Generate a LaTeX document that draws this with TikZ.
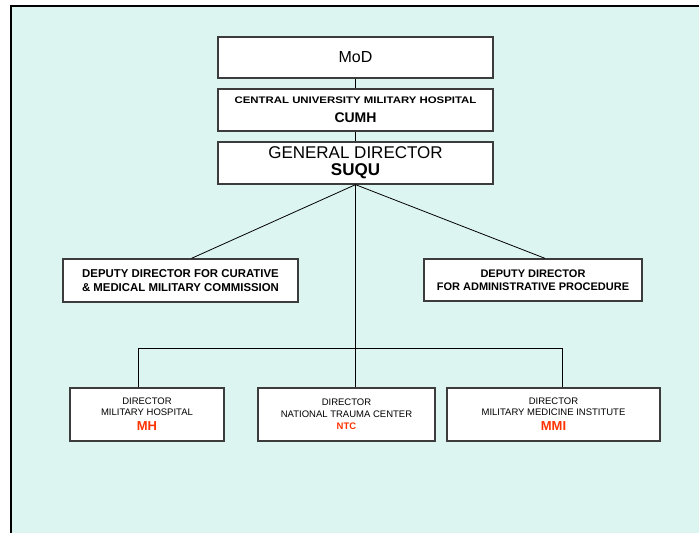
\documentclass[tikz,border=0pt]{standalone}
\usepackage{fontspec}
\setmainfont{Liberation Sans}
\newfontfamily\widefont[FakeStretch=1.2]{Liberation Sans}
\definecolor{bgc}{RGB}{220,245,240}
\definecolor{redt}{RGB}{255,51,0}
\definecolor{boxline}{RGB}{60,60,60}
\begin{document}
\begin{tikzpicture}[x=1pt,y=-1pt,
  box/.style={draw=boxline, line width=1.3pt, fill=white, align=center, inner sep=0pt},
  conn/.style={draw=black, line width=0.8pt}]
\useasboundingbox (0,0) rectangle (699,533);
\fill[white] (0,0) rectangle (699,533);
\fill[bgc] (11,6) rectangle (699,533);
\draw[line width=1.4pt] (11,533) -- (11,6) -- (699,6);

\node[box, minimum width=275pt, minimum height=41pt, font=\fontsize{16}{18}\selectfont] (mod) at (355.5,57.5) {MoD};
\node[box, minimum width=275pt, minimum height=42pt, font=\fontsize{9.5}{18.8}\selectfont\bfseries] (cumh) at (355.5,110)
  {{\widefont\bfseries CENTRAL UNIVERSITY MILITARY HOSPITAL}\\{\fontsize{14}{14}\selectfont\bfseries CUMH}};
\node[box, minimum width=275pt, minimum height=42pt, font=\fontsize{17}{17}\selectfont] (gd) at (355.5,163)
  {GENERAL DIRECTOR\\{\bfseries SUQU}};

\node[box, minimum width=235pt, minimum height=43pt, font=\fontsize{11.4}{14}\selectfont\bfseries] (dl) at (180.5,280.5)
  {DEPUTY DIRECTOR FOR CURATIVE\\\& MEDICAL MILITARY COMMISSION};
\node[box, minimum width=218pt, minimum height=42pt, font=\fontsize{11}{13}\selectfont\bfseries] (dr) at (533,280)
  {DEPUTY DIRECTOR\\FOR ADMINISTRATIVE PROCEDURE};

\node[box, minimum width=154pt, minimum height=53pt, font=\fontsize{9.5}{11}\selectfont] (bl) at (147,414.5)
  {DIRECTOR\\MILITARY HOSPITAL\\[4pt]{\fontsize{13}{13}\selectfont\bfseries\color{redt}MH}};
\node[box, minimum width=177pt, minimum height=53pt, font=\fontsize{9.5}{12}\selectfont] (bm) at (346.5,414.5)
  {DIRECTOR\\NATIONAL TRAUMA CENTER\\{\bfseries\color{redt}NTC}};
\node[box, minimum width=213pt, minimum height=53pt, font=\fontsize{9.5}{11}\selectfont] (br) at (553.5,414.5)
  {DIRECTOR\\MILITARY MEDICINE INSTITUTE\\[4pt]{\fontsize{13}{13}\selectfont\bfseries\color{redt}MMI}};

\coordinate (busL) at (138,348);
\coordinate (busR) at (562,348);

\draw[conn] (mod.south) -- (cumh.north);
\draw[conn] (cumh.south) -- (gd.north);
\draw[conn] (gd.south) -- ([xshift=11pt]dl.north);
\draw[conn] (gd.south) -- ([xshift=12pt]dr.north);
\draw[conn] (gd.south) -- (gd.south |- bm.north);
\draw[conn] (bl.north -| busL) -- (busL) -- (busR) -- (br.north -| busR);
\end{tikzpicture}
\end{document}
